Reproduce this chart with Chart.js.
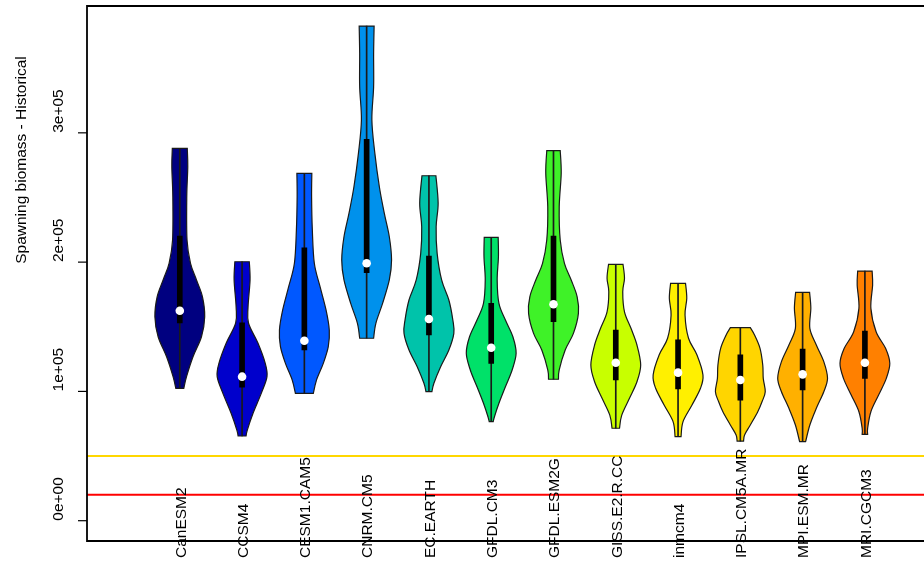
<!DOCTYPE html>
<html>
<head>
<meta charset="utf-8">
<script src="https://cdn.jsdelivr.net/npm/chart.js@4/dist/chart.umd.min.js"></script>
<style>
  html, body { margin: 0; padding: 0; background: #fff; overflow: hidden; }
  #wrap { width: 962px; height: 562px; }
</style>
</head>
<body>
<div id="wrap"><canvas id="chart" width="962" height="562"></canvas></div>
<script>
// models in plotting order (x = 1..12)
const models = ['CanESM2', 'CCSM4', 'CESM1.CAM5', 'CNRM.CM5', 'EC.EARTH', 'GFDL.CM3',
    'GFDL.ESM2G', 'GISS.E2.R.CC', 'inmcm4', 'IPSL.CM5A.MR', 'MPI.ESM.MR', 'MRI.CGCM3'];

// summary stats
const minVals    = [102400, 65500, 98500, 141100, 99800, 76600, 109400, 71500, 65000, 61600, 61100, 66800];
const maxVals    = [288000, 200300, 268700, 382600, 266800, 219200, 286200, 198300, 183600, 149300, 176600, 193100];
const q1Vals     = [152900, 103200, 132000, 191800, 143600, 121700, 153900, 108800, 101900, 93300, 101100, 110100];
const q3Vals     = [220200, 153100, 211100, 295000, 204700, 168100, 220200, 147500, 139800, 128200, 132800, 146700];
const medianVals = [162400, 111400, 139200, 199100, 156000, 133800, 167400, 122200, 114500, 108800, 113200, 122200];

// violin outlines: levels (thousands, bottom -> top) and relative width at each level
const densityLevelsK = [
    [102.4, 111.4, 126.8, 142.3, 157.8, 173.2, 186.2, 199.1, 217.1, 250.6, 273.8, 288.0],
    [65.5, 70.1, 83.1, 98.5, 111.4, 121.7, 137.2, 152.7, 165.5, 186.2, 200.3],
    [98.5, 108.9, 121.7, 134.6, 147.5, 163.0, 181.0, 199.1, 224.8, 250.6, 268.7],
    [141.1, 152.7, 168.1, 186.2, 201.6, 219.6, 237.7, 258.3, 284.1, 310.0, 335.7, 361.5, 382.6],
    [99.8, 106.3, 119.1, 132.0, 144.9, 155.2, 170.7, 186.2, 206.8, 227.4, 245.5, 266.8],
    [76.6, 80.4, 90.8, 103.6, 116.6, 129.5, 142.3, 155.2, 168.1, 186.2, 204.2, 219.2],
    [109.4, 116.6, 132.0, 144.9, 160.4, 173.2, 186.2, 199.1, 217.1, 242.8, 268.7, 286.2],
    [71.5, 81.7, 94.7, 107.5, 120.4, 135.9, 148.8, 161.6, 177.1, 187.5, 198.3],
    [65.0, 76.6, 89.5, 102.4, 112.7, 128.2, 141.1, 159.1, 172.0, 183.6],
    [61.6, 66.3, 74.0, 84.3, 92.0, 99.8, 110.1, 120.4, 133.3, 143.6, 149.3],
    [61.1, 74.0, 86.9, 99.8, 110.1, 123.0, 135.9, 148.8, 164.3, 176.6],
    [66.8, 71.5, 84.3, 97.2, 110.1, 121.7, 133.3, 146.2, 164.3, 182.3, 193.1]
];
const densityWidths = [
    [.16, .27, .53, .87, 1, .91, .67, .43, .29, .28, .32, .30],
    [.16, .21, .44, .77, 1, .93, .64, .26, .24, .32, .29],
    [.36, .49, .76, .96, 1, .87, .63, .40, .32, .29, .30],
    [.28, .37, .64, .91, 1, .91, .71, .51, .33, .21, .28, .28, .30],
    [.12, .20, .47, .80, 1, .96, .80, .51, .33, .29, .37, .28],
    [.08, .13, .31, .57, .84, 1, .87, .57, .31, .24, .29, .28],
    [.20, .23, .47, .80, 1, .95, .71, .44, .27, .23, .31, .27],
    [.15, .24, .55, .85, 1, .85, .61, .35, .28, .35, .29],
    [.12, .20, .56, .90, 1, .76, .42, .28, .35, .30],
    [.13, .17, .40, .70, .87, 1, .92, .90, .79, .57, .40],
    [.12, .29, .55, .85, 1, .85, .55, .29, .33, .28],
    [.11, .11, .24, .55, .86, 1, .83, .45, .24, .31, .29]
];

// reference levels (horizontal lines)
const refLevels = [50000, 20000];

const yTicks = [0, 100000, 200000, 300000];
const yTickLabels = ['0e+00', '1e+05', '2e+05', '3e+05'];
const yTitle = 'Spawning biomass - Historical';

const violinColors = ['#000080', '#0000cc', '#0058ff', '#0091ec', '#00c3aa', '#00e169',
    '#3ff228', '#c8ff00', '#fff000', '#ffd500', '#ffb000', '#ff8000'];
const refColors = ['#ffd700', '#ff0000'];

const X_MIN = -0.49, X_MAX = 13.49;
const Y_MIN = -15700, Y_MAX = 398100;
const HALF_WIDTH = 0.4;
const FONT = '15.5px "Liberation Sans", Arial, sans-serif';

// catmull-rom through pts, current point must already be pts[0]
function smoothThrough(ctx, pts) {
    for (let k = 0; k < pts.length - 1; k++) {
        const p0 = pts[k - 1] || pts[k];
        const p1 = pts[k];
        const p2 = pts[k + 1];
        const p3 = pts[k + 2] || pts[k + 1];
        ctx.bezierCurveTo(
            p1.x + (p2.x - p0.x) / 6, p1.y + (p2.y - p0.y) / 6,
            p2.x - (p3.x - p1.x) / 6, p2.y - (p3.y - p1.y) / 6,
            p2.x, p2.y);
    }
}

const violinPlugin = {
    id: 'violins',
    beforeDatasetsDraw(chart) {
        const { ctx, scales: { x, y } } = chart;
        ctx.save();
        models.forEach((m, i) => {
            const pos = i + 1;
            const lv = densityLevelsK[i];
            const wd = densityWidths[i];
            const right = lv.map((v, k) => ({
                x: x.getPixelForValue(pos + wd[k] * HALF_WIDTH),
                y: y.getPixelForValue(v * 1000)
            }));
            const left = lv.map((v, k) => ({
                x: x.getPixelForValue(pos - wd[k] * HALF_WIDTH),
                y: y.getPixelForValue(v * 1000)
            })).reverse();
            ctx.beginPath();
            ctx.moveTo(right[0].x, right[0].y);
            smoothThrough(ctx, right);
            ctx.lineTo(left[0].x, left[0].y);
            smoothThrough(ctx, left);
            ctx.closePath();
            ctx.fillStyle = violinColors[i];
            ctx.fill();
            ctx.lineWidth = 1.2;
            ctx.strokeStyle = '#1a1a1a';
            ctx.stroke();
        });
        ctx.restore();
    }
};

const framePlugin = {
    id: 'frame',
    afterDraw(chart) {
        const { ctx, chartArea: a, scales: { x, y } } = chart;
        ctx.save();
        // box
        ctx.strokeStyle = '#000';
        ctx.lineWidth = 1.8;
        ctx.beginPath();
        ctx.moveTo(a.right, a.top);
        ctx.lineTo(a.left, a.top);
        ctx.lineTo(a.left, a.bottom);
        ctx.lineTo(a.right, a.bottom);
        ctx.stroke();

        ctx.fillStyle = '#000';
        ctx.font = FONT;

        // y ticks and labels (rotated, starting at the tick)
        ctx.lineWidth = 1.2;
        yTicks.forEach((v, k) => {
            const py = y.getPixelForValue(v);
            ctx.beginPath();
            ctx.moveTo(a.left, py);
            ctx.lineTo(a.left - 9, py);
            ctx.stroke();
            ctx.save();
            ctx.translate(59, py);
            ctx.rotate(-Math.PI / 2);
            ctx.textAlign = 'left';
            ctx.textBaseline = 'middle';
            ctx.fillText(yTickLabels[k], 0, 0);
            ctx.restore();
        });

        // y title
        ctx.save();
        ctx.translate(22, 160);
        ctx.rotate(-Math.PI / 2);
        ctx.textAlign = 'center';
        ctx.textBaseline = 'middle';
        ctx.fillText(yTitle, 0, 0);
        ctx.restore();

        // model names, vertical, starting just below the box
        models.forEach((m, i) => {
            const px = x.getPixelForValue(i + 1);
            ctx.save();
            ctx.translate(px + 1.5, 558);
            ctx.rotate(-Math.PI / 2);
            ctx.textAlign = 'left';
            ctx.textBaseline = 'middle';
            ctx.fillText(m, 0, 0);
            ctx.restore();
        });
        ctx.restore();
    }
};

const refDatasets = refLevels.map((v, k) => ({
    type: 'line',
    data: [{ x: X_MIN, y: v }, { x: X_MAX, y: v }],
    borderColor: refColors[k],
    borderWidth: 2,
    pointRadius: 0,
    order: 4
}));

const ctx = document.getElementById('chart').getContext('2d');
new Chart(ctx, {
    type: 'bar',
    data: {
        datasets: [
            ...refDatasets,
            {
                type: 'bar',
                data: models.map((m, i) => ({ x: i + 1, y: [minVals[i], maxVals[i]] })),
                backgroundColor: '#1a1a1a',
                barThickness: 1,
                grouped: false,
                order: 3
            },
            {
                type: 'bar',
                data: models.map((m, i) => ({ x: i + 1, y: [q1Vals[i], q3Vals[i]] })),
                backgroundColor: '#000',
                barThickness: 5,
                grouped: false,
                order: 2
            },
            {
                type: 'scatter',
                data: models.map((m, i) => ({ x: i + 1, y: medianVals[i] })),
                pointRadius: 4.3,
                pointBackgroundColor: '#fff',
                pointBorderWidth: 0,
                order: 1
            }
        ]
    },
    options: {
        responsive: false,
        maintainAspectRatio: false,
        animation: false,
        layout: { padding: { left: 87, top: 6, right: 1, bottom: 21 } },
        scales: {
            x: { type: 'linear', min: X_MIN, max: X_MAX, offset: false, display: false },
            y: { type: 'linear', min: Y_MIN, max: Y_MAX, beginAtZero: false, display: false }
        },
        plugins: {
            legend: { display: false },
            tooltip: { enabled: false }
        }
    },
    plugins: [violinPlugin, framePlugin]
});
</script>
</body>
</html>
